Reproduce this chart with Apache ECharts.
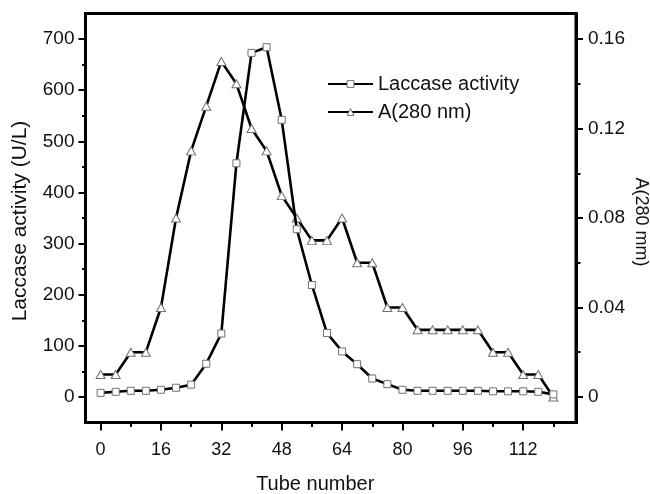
<!DOCTYPE html>
<html>
<head>
<meta charset="utf-8">
<script src="https://cdn.jsdelivr.net/npm/echarts@6/dist/echarts.min.js"></script>
<style>html,body{margin:0;padding:0;background:#fff;}#c{width:650px;height:494px;}</style>
</head>
<body>
<div id="c"></div>
<script>
const tubes = [0,4,8,12,16,20,24,28,32,36,40,44,48,52,56,60,64,68,72,76,80,84,88,92,96,100,104,108,112,116,120];
const laccase = [8,10,12,12,14,18,24,65,124,457,673,684,542,328,219,125,89,64,36,25,14,12,12,12,12,12,11,11,11,10,5];
const a280 = [0.01,0.01,0.02,0.02,0.04,0.08,0.11,0.13,0.15,0.14,0.12,0.11,0.09,0.08,0.07,0.07,0.08,0.06,0.06,0.04,0.04,0.03,0.03,0.03,0.03,0.03,0.02,0.02,0.01,0.01,0.00];
const xMajor = [0,16,32,48,64,80,96,112];
const xMinor = [8,24,40,56,72,88,104,120];
const yLeftMajor = [0,100,200,300,400,500,600,700];
const yLeftMinor = [50,150,250,350,450,550,650];
const yRightMajor = [0,0.04,0.08,0.12,0.16];
const yRightMinor = [0.02,0.06,0.10,0.14];

const FONT = "'Liberation Sans', Arial, Helvetica, sans-serif";
const X_MIN = -4, X_MAX = 126;
const YL_MIN = -50, YL_MAX = 750;
const YR_MIN = -0.08/7, YR_MAX = 1.2/7;

function pairs(xs, ys){ return xs.map((x,i)=>[x, ys[i]]); }

const tickStyle = {color:'#000', width:2};
const chart = echarts.init(document.getElementById('c'), null, {renderer:'canvas'});
chart.setOption({
  animation:false,
  backgroundColor:'#fff',
  grid:{left:85.5, right:74, top:13.5, bottom:71.5, show:true, borderColor:'#000', borderWidth:3,
        containLabel:false, outerBoundsMode:'none'},
  legend:{
    orient:'vertical', left:327, top:74, itemWidth:45, itemHeight:8.5, itemGap:8, padding:0,
    textStyle:{fontFamily:FONT, fontSize:20, color:'#111'},
    itemStyle:{color:'#fff', borderColor:'#707070', borderWidth:1},
    data:['Laccase activity','A(280 nm)']
  },
  xAxis:[{
    type:'value', min:X_MIN, max:X_MAX, position:'bottom',
    name:'Tube number', nameLocation:'middle', nameGap:52, nameMoveOverlap:false,
    nameTextStyle:{fontFamily:FONT, fontSize:20, color:'#111', padding:[0,31,0,0]},
    axisLine:{show:true, onZero:false, lineStyle:{color:'#000', width:3}},
    axisTick:{show:true, inside:false, length:8, lineStyle:tickStyle, customValues:xMajor},
    axisLabel:{show:true, fontFamily:FONT, fontSize:18, color:'#111', margin:19, customValues:xMajor},
    splitLine:{show:false}
  },{
    type:'value', min:X_MIN, max:X_MAX, position:'bottom',
    axisLine:{show:false, onZero:false},
    axisTick:{show:true, inside:false, length:4.5, lineStyle:tickStyle, customValues:xMinor},
    axisLabel:{show:false},
    splitLine:{show:false}
  }],
  yAxis:[{
    type:'value', min:YL_MIN, max:YL_MAX, position:'left',
    name:'Laccase activity (U/L)', nameLocation:'middle', nameGap:55, nameMoveOverlap:false,
    nameTextStyle:{fontFamily:FONT, fontSize:21, color:'#111', padding:[0,6,0,0]},
    axisLine:{show:true, onZero:false, lineStyle:{color:'#000', width:3}},
    axisTick:{show:true, inside:false, length:7, lineStyle:tickStyle, customValues:yLeftMajor},
    axisLabel:{show:true, fontFamily:FONT, fontSize:19, color:'#111', margin:11, customValues:yLeftMajor},
    splitLine:{show:false}
  },{
    type:'value', min:YR_MIN, max:YR_MAX, position:'right',
    name:'A(280 mm)', nameLocation:'middle', nameGap:56, nameRotate:-90, nameMoveOverlap:false,
    nameTextStyle:{fontFamily:FONT, fontSize:18, color:'#111', padding:[0,0,0,8]},
    axisLine:{show:true, onZero:false, lineStyle:{color:'#000', width:3}},
    axisTick:{show:true, inside:false, length:7, lineStyle:tickStyle, customValues:yRightMajor},
    axisLabel:{show:true, fontFamily:FONT, fontSize:19, color:'#111', margin:12, customValues:yRightMajor,
      formatter:v=>String(Math.round(v*100)/100)},
    splitLine:{show:false}
  },{
    type:'value', min:YL_MIN, max:YL_MAX, position:'left',
    axisLine:{show:false, onZero:false},
    axisTick:{show:true, inside:false, length:3.5, lineStyle:tickStyle, customValues:yLeftMinor},
    axisLabel:{show:false}, splitLine:{show:false}
  },{
    type:'value', min:YR_MIN, max:YR_MAX, position:'right',
    axisLine:{show:false, onZero:false},
    axisTick:{show:true, inside:false, length:4.5, lineStyle:tickStyle, customValues:yRightMinor},
    axisLabel:{show:false}, splitLine:{show:false}
  }],
  series:[{
    name:'Laccase activity', type:'line', xAxisIndex:0, yAxisIndex:0,
    data:pairs(tubes, laccase),
    symbol:'rect', symbolSize:7, showAllSymbol:true,
    lineStyle:{color:'#000', width:2.6},
    itemStyle:{color:'#fff', borderColor:'#707070', borderWidth:1},
    emphasis:{disabled:true}, z:3
  },{
    name:'A(280 nm)', type:'line', xAxisIndex:0, yAxisIndex:1,
    data:pairs(tubes, a280),
    symbol:'triangle', symbolSize:[9,8], showAllSymbol:true,
    lineStyle:{color:'#000', width:2.6},
    itemStyle:{color:'#fff', borderColor:'#707070', borderWidth:1},
    emphasis:{disabled:true}, z:2
  }]
});
</script>
</body>
</html>
